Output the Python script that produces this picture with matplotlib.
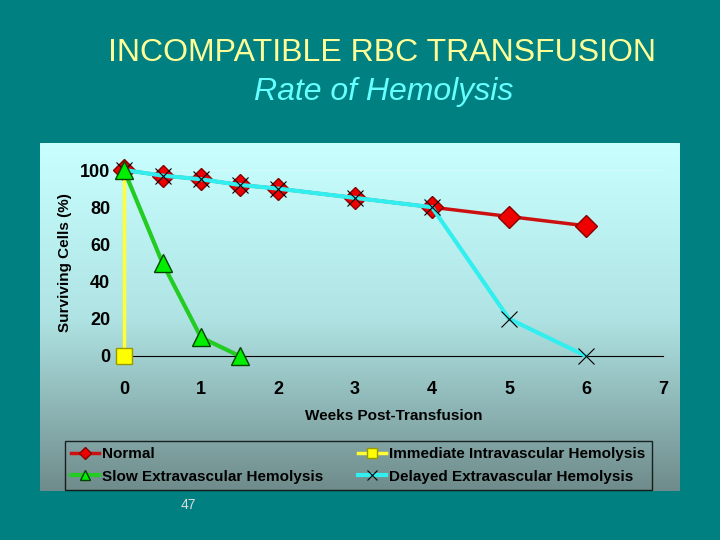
import numpy as np
import matplotlib
matplotlib.use("Agg")
import matplotlib.pyplot as plt
from matplotlib.colors import LinearSegmentedColormap

# data
weeks_normal = [0, 0.5, 1, 1.5, 2, 3, 4, 5, 6]
normal = [100, 97, 95, 92, 90, 85, 80, 75, 70]
weeks_immediate = [0, 0]
immediate = [100, 0]
weeks_slow = [0, 0.5, 1, 1.5]
slow = [100, 50, 10, 0]
weeks_delayed = [0, 0.5, 1, 1.5, 2, 3, 4, 5, 6]
delayed = [100, 97, 95, 92, 90, 85, 80, 20, 0]
xticks = [0, 1, 2, 3, 4, 5, 6, 7]
yticks = [0, 20, 40, 60, 80, 100]

plt.rcParams['font.family'] = ['Liberation Sans', 'DejaVu Sans']

fig = plt.figure(figsize=(7.2, 5.4), dpi=100)
fig.patch.set_facecolor('#008080')

W, H = 720.0, 540.0

# gradient panel behind the chart
bg = fig.add_axes([40/W, (H-491)/H, 640/W, 348/H])
cmap = LinearSegmentedColormap.from_list('g', ['#c9ffff', '#b0e4e4', '#6f8b8b'])
bg.imshow(np.linspace(0, 1, 256).reshape(-1, 1), aspect='auto', cmap=cmap,
          extent=[0, 1, 0, 1])
bg.set_axis_off()

ax = fig.add_axes([124/W, (H-356)/H, 539/W, 186/H])
ax.patch.set_alpha(0)
ax.set_xlim(0, 7)
ax.set_ylim(0, 100)

ax.axhline(100, color='white', lw=0.8, ls=':', alpha=0.7, zorder=1)

ax.plot(weeks_normal, normal, color='#cc1010', lw=2.5, marker='D', ms=11,
        mfc='#ee0000', mec='#880000', clip_on=False, zorder=3, label='Normal')
ax.plot(weeks_delayed, delayed, color='#33eeee', lw=3, marker='x', ms=12,
        mec='black', mew=0.8, clip_on=False, zorder=4,
        label='Delayed Extravascular Hemolysis')
ax.plot(weeks_immediate, immediate, color='#ffff33', lw=2.5, marker='s', ms=12,
        mfc='#ffff00', mec='#999900', markevery=[1], clip_on=False, zorder=4,
        label='Immediate Intravascular Hemolysis')
ax.plot(weeks_slow, slow, color='#22cc22', lw=3, marker='^', ms=13,
        mfc='#00ee00', mec='#004400', clip_on=False, zorder=5,
        label='Slow Extravascular Hemolysis')

for s in ['top', 'right', 'left']:
    ax.spines[s].set_visible(False)
ax.spines['bottom'].set_color('black')
ax.set_xticks(xticks)
ax.set_xticks([5], minor=True)
ax.set_yticks(yticks)
ax.tick_params(axis='x', which='major', length=0, pad=18, labelsize=13)
ax.tick_params(axis='x', which='minor', direction='out', length=5, color='black')
ax.tick_params(axis='y', length=0, pad=10, labelsize=13)
for lab in ax.get_xticklabels() + ax.get_yticklabels():
    lab.set_fontweight('bold')
ax.set_xlabel('Weeks Post-Transfusion', fontsize=11, fontweight='bold', labelpad=8)
ax.set_ylabel('Surviving Cells (%)', fontsize=11, fontweight='bold', labelpad=6)

h, l = ax.get_legend_handles_labels()
order = [0, 3, 2, 1]
leg = fig.legend([h[i] for i in order], [l[i] for i in order], ncol=2,
                 loc='upper left', bbox_to_anchor=(65/W, 1-441/H),
                 frameon=True, fancybox=False, edgecolor='black',
                 facecolor='none', prop={'weight': 'bold', 'size': 11},
                 handlelength=1.8, handletextpad=0.25, columnspacing=2.25,
                 borderpad=0.4, borderaxespad=0, labelspacing=0.55,
                 markerscale=0.6)

fig.text(382/W, 1-53/H, 'INCOMPATIBLE RBC TRANSFUSION', color='#ffff99',
         fontsize=23, ha='center', va='center')
fig.text(384/W, 1-92/H, 'Rate of Hemolysis', color='#66ffff',
         fontsize=23, style='italic', ha='center', va='center')
fig.text(188/W, 1-505/H, '47', color='#dddddd', fontsize=10,
         ha='center', va='center')

fig.savefig('out.png', dpi=100, facecolor=fig.get_facecolor())
